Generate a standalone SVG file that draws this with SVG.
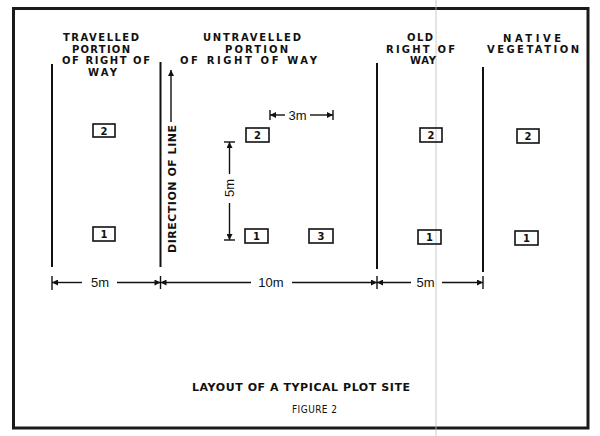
<svg xmlns="http://www.w3.org/2000/svg" width="600" height="436" viewBox="0 0 600 436">
<style>
.hd{font-family:"DejaVu Sans",sans-serif;font-weight:bold;font-size:10px;fill:#111}
.tt{font-family:"DejaVu Sans",sans-serif;font-weight:bold;font-size:11px;fill:#111}
.dim{font-family:"Liberation Sans",sans-serif;font-size:13px;fill:#111}
.num{font-family:"DejaVu Sans",sans-serif;font-weight:bold;font-size:10px;fill:#111;text-anchor:middle}
.bx{fill:none;stroke:#111;stroke-width:1.6}
.ln{stroke:#111;stroke-width:2;fill:none}
.dl{stroke:#111;stroke-width:1.4;fill:none}
</style>
<defs>
<marker id="ah" viewBox="0 0 10 10" refX="10" refY="5" markerWidth="7" markerHeight="6" markerUnits="userSpaceOnUse" orient="auto">
<path d="M0,0 L10,5 L0,10 z" fill="#111"/>
</marker>
</defs>
<rect width="600" height="436" fill="#fff"/>
<rect x="13.5" y="8.5" width="574.5" height="419.5" fill="none" stroke="#1a1a1a" stroke-width="3"/>
<line x1="436" y1="0" x2="436" y2="436" stroke="#bdbdbd" stroke-width="0.8"/>

<g id="headers">
<text class="hd" x="63" y="41" textLength="76">TRAVELLED</text>
<text class="hd" x="72" y="52.7" textLength="58">PORTION</text>
<text class="hd" x="62" y="64.4" textLength="88">OF RIGHT OF</text>
<text class="hd" x="88" y="76.1" textLength="29">WAY</text>
<text class="hd" x="203" y="41" textLength="98">UNTRAVELLED</text>
<text class="hd" x="225" y="52.7" textLength="63">PORTION</text>
<text class="hd" x="180" y="64.4" textLength="137">OF RIGHT OF WAY</text>
<text class="hd" x="407" y="41" textLength="26">OLD</text>
<text class="hd" x="386" y="52.7" textLength="69">RIGHT OF</text>
<text class="hd" x="410" y="64.4" textLength="26">WAY</text>
<text class="hd" x="503" y="41.5" textLength="58">NATIVE</text>
<text class="hd" x="487" y="53.2" textLength="92">VEGETATION</text>
</g>

<g id="boundaries">
<line class="ln" x1="52" y1="64" x2="52" y2="267"/>
<line class="ln" x1="160.5" y1="62" x2="160.5" y2="267"/>
<line class="ln" x1="377" y1="63" x2="377" y2="269"/>
<line class="ln" x1="483" y1="67" x2="483" y2="272"/>
</g>

<g id="direction">
<line class="dl" x1="171" y1="122" x2="171" y2="70" marker-end="url(#ah)"/>
<text class="tt" transform="translate(175.5,253) rotate(-90)" x="0" y="0" textLength="128">DIRECTION OF LINE</text>
</g>

<g id="plot-t2"><rect class="bx" x="93" y="124" width="22" height="13"/><text class="num" x="104" y="134.5">2</text></g>
<g id="plot-t1"><rect class="bx" x="93" y="227" width="22" height="14"/><text class="num" x="104" y="237.5">1</text></g>
<g id="plot-u2"><rect class="bx" x="246" y="128" width="23" height="14"/><text class="num" x="257.5" y="138.5">2</text></g>
<g id="plot-u1"><rect class="bx" x="245" y="229" width="23" height="14"/><text class="num" x="256.5" y="239.5">1</text></g>
<g id="plot-u3"><rect class="bx" x="309" y="229" width="24" height="14"/><text class="num" x="321" y="239.5">3</text></g>
<g id="plot-o2"><rect class="bx" x="420" y="128" width="22" height="14"/><text class="num" x="431" y="138.5">2</text></g>
<g id="plot-o1"><rect class="bx" x="418" y="230" width="23" height="14"/><text class="num" x="429.5" y="240.5">1</text></g>
<g id="plot-n2"><rect class="bx" x="517" y="129" width="22" height="14"/><text class="num" x="528" y="139.5">2</text></g>
<g id="plot-n1"><rect class="bx" x="515" y="231" width="23" height="14"/><text class="num" x="526.5" y="241.5">1</text></g>

<g id="connectors">
<line class="dl" x1="270" y1="110" x2="270" y2="120"/>
<line class="dl" x1="333" y1="110" x2="333" y2="120"/>
<line class="dl" x1="285" y1="115" x2="270" y2="115" marker-end="url(#ah)"/>
<line class="dl" x1="310" y1="115" x2="333" y2="115" marker-end="url(#ah)"/>
<line class="dl" x1="224" y1="142" x2="235" y2="142"/>
<line class="dl" x1="224" y1="240" x2="235" y2="240"/>
<line class="dl" x1="229.5" y1="174" x2="229.5" y2="142" marker-end="url(#ah)"/>
<line class="dl" x1="229.5" y1="203" x2="229.5" y2="240" marker-end="url(#ah)"/>
<line class="dl" x1="52" y1="276" x2="52" y2="290"/>
<line class="dl" x1="160.5" y1="276" x2="160.5" y2="289"/>
<line class="dl" x1="377" y1="276" x2="377" y2="289"/>
<line class="dl" x1="483" y1="276" x2="483" y2="289"/>
<line class="dl" x1="82" y1="282.5" x2="52" y2="282.5" marker-end="url(#ah)"/>
<line class="dl" x1="117" y1="282.5" x2="160.5" y2="282.5" marker-end="url(#ah)"/>
<line class="dl" x1="251" y1="282.5" x2="160.5" y2="282.5" marker-end="url(#ah)"/>
<line class="dl" x1="292" y1="282.5" x2="377" y2="282.5" marker-end="url(#ah)"/>
<line class="dl" x1="411" y1="282.5" x2="377" y2="282.5" marker-end="url(#ah)"/>
<line class="dl" x1="442" y1="282.5" x2="483" y2="282.5" marker-end="url(#ah)"/>
</g>

<g id="dim-labels">
<text class="dim" x="297.5" y="119.5" text-anchor="middle">3m</text>
<text class="dim" transform="translate(234,188) rotate(-90)" x="0" y="0" text-anchor="middle">5m</text>
<text class="dim" x="100" y="287" text-anchor="middle">5m</text>
<text class="dim" x="271" y="287" text-anchor="middle">10m</text>
<text class="dim" x="425.5" y="287" text-anchor="middle">5m</text>
</g>

<g id="title">
<text class="tt" x="192" y="391" textLength="218">LAYOUT OF A TYPICAL PLOT SITE</text>
<text x="292" y="413" textLength="45" style="font-family:'Liberation Sans Narrow','DejaVu Sans Condensed',sans-serif;font-size:10px;fill:#111">FIGURE 2</text>
</g>
</svg>
